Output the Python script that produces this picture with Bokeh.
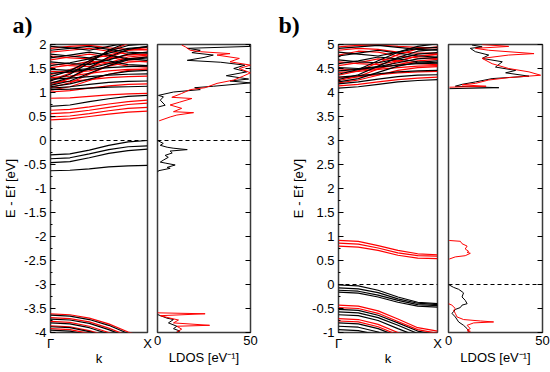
from bokeh.plotting import figure
from bokeh.layouts import row
from bokeh.models import Span, FixedTicker, Range1d
from bokeh.embed import file_html
from bokeh.resources import INLINE

FONT = "Liberation Sans"
BLACK = "#000000"
RED = "#ff0000"

# ---------------- data ----------------
K = [0.0, 0.2, 0.4, 0.6, 0.8, 1.0]
K_TICKS = [0, 1]
K_LABELS = ["Γ", "X"]
LDOS_TICKS = [0, 50]
LDOS_LABELS = ["0", "50"]

A_YTICKS = [-4, -3.5, -3, -2.5, -2, -1.5, -1, -0.5, 0, 0.5, 1, 1.5, 2]
A_YLABELS = ["-4", "-3.5", "-3", "-2.5", "-2", "-1.5", "-1", "-0.5", "0", "0.5", "1", "1.5", "2"]
B_YTICKS = [-1, -0.5, 0, 0.5, 1, 1.5, 2, 2.5, 3, 3.5, 4, 4.5, 5]
B_YLABELS = ["-1", "-0.5", "0", "0.5", "1", "1.5", "2", "2.5", "3", "3.5", "4", "4.5", "5"]

# panel a) bands
A_VB_BLACK = [
    [-0.30, -0.28, -0.20, -0.10, -0.03, 0.00],
    [-0.38, -0.36, -0.28, -0.19, -0.13, -0.11],
    [-0.46, -0.44, -0.36, -0.27, -0.21, -0.18],
    [-0.63, -0.62, -0.59, -0.55, -0.53, -0.52],
]
A_CB_LOW_BLACK = [
    [0.71, 0.74, 0.81, 0.87, 0.92, 0.94],
]
A_CB_LOW_RED = [
    [0.63, 0.65, 0.70, 0.76, 0.81, 0.84],
    [0.56, 0.58, 0.63, 0.69, 0.75, 0.78],
    [0.49, 0.51, 0.56, 0.62, 0.67, 0.69],
    [0.43, 0.45, 0.50, 0.55, 0.59, 0.61],
]
A_CB_HIGH_BLACK = [
    [1.06, 1.07, 1.09, 1.11, 1.12, 1.13],
    [1.09, 1.12, 1.17, 1.21, 1.23, 1.24],
    [1.12, 1.18, 1.28, 1.38, 1.44, 1.46],
    [1.15, 1.24, 1.40, 1.56, 1.68, 1.72],
    [1.19, 1.31, 1.52, 1.74, 1.90, 1.96],
    [1.24, 1.38, 1.62, 1.88, 2.05, 2.10],
    [1.28, 1.30, 1.33, 1.36, 1.38, 1.39],
    [1.33, 1.45, 1.66, 1.86, 1.98, 2.02],
    [1.40, 1.43, 1.48, 1.52, 1.54, 1.55],
    [1.48, 1.46, 1.50, 1.60, 1.70, 1.74],
    [1.56, 1.62, 1.70, 1.66, 1.58, 1.56],
    [1.64, 1.60, 1.58, 1.68, 1.80, 1.84],
    [1.72, 1.78, 1.84, 1.78, 1.70, 1.67],
    [1.80, 1.76, 1.72, 1.82, 1.92, 1.95],
    [1.88, 1.92, 1.96, 1.90, 1.84, 1.82],
    [1.96, 1.93, 1.88, 1.96, 2.04, 2.06],
]
A_CB_HIGH_RED = [
    [0.88, 0.89, 0.92, 0.95, 0.97, 0.98],
    [1.01, 1.04, 1.09, 1.14, 1.17, 1.18],
    [1.05, 1.12, 1.25, 1.38, 1.46, 1.49],
    [1.10, 1.20, 1.38, 1.56, 1.70, 1.75],
    [1.16, 1.29, 1.50, 1.72, 1.88, 1.94],
    [1.21, 1.23, 1.27, 1.31, 1.33, 1.34],
    [1.26, 1.40, 1.64, 1.86, 2.02, 2.08],
    [1.31, 1.34, 1.40, 1.45, 1.48, 1.49],
    [1.37, 1.48, 1.60, 1.70, 1.78, 1.80],
    [1.44, 1.42, 1.45, 1.55, 1.63, 1.66],
    [1.52, 1.57, 1.65, 1.62, 1.55, 1.53],
    [1.60, 1.56, 1.54, 1.62, 1.74, 1.78],
    [1.68, 1.74, 1.80, 1.74, 1.66, 1.64],
    [1.76, 1.72, 1.70, 1.78, 1.88, 1.90],
    [1.84, 1.88, 1.92, 1.86, 1.80, 1.79],
    [1.92, 1.96, 1.98, 1.93, 1.90, 1.89],
]
A_DEEP_BLACK = [
    [-3.64, -3.66, -3.73, -3.85, -4.02, -4.15],
    [-3.72, -3.74, -3.81, -3.94, -4.10, -4.20],
    [-3.80, -3.82, -3.90, -4.03, -4.20, -4.30],
    [-3.88, -3.90, -3.98, -4.10, -4.25, -4.35],
    [-3.95, -3.97, -4.05, -4.18, -4.30, -4.40],
]
A_DEEP_RED = [
    [-3.61, -3.63, -3.70, -3.82, -3.99, -4.12],
    [-3.69, -3.71, -3.78, -3.91, -4.07, -4.18],
    [-3.77, -3.79, -3.87, -4.00, -4.15, -4.25],
    [-3.86, -3.88, -3.96, -4.08, -4.22, -4.32],
    [-3.92, -3.94, -4.02, -4.15, -4.28, -4.38],
]

# panel a) LDOS
A_LDOS_VB_BLACK_E = [0.0, -0.06, -0.10, -0.14, -0.16, -0.19, -0.22, -0.26, -0.31, -0.35, -0.41, -0.45, -0.47, -0.51, -0.56, -0.58, -0.63, -0.66]
A_LDOS_VB_BLACK_D = [0, 3.1, 1.5, 5.2, 8.4, 16, 6.8, 7.9, 4.1, 5.8, 3.1, 1.5, 4.1, 9.5, 5.2, 6.8, 0.5, 0]
A_LDOS_CB_BLACK_E = [0.70, 0.735, 0.84, 0.91, 0.94, 1.01, 1.06, 1.10, 1.13, 1.20, 1.24, 1.28, 1.35, 1.43, 1.50, 1.57, 1.63, 1.67, 1.73, 1.78, 1.83, 1.88, 1.92, 1.96, 2.0]
A_LDOS_CB_BLACK_D = [0.5, 4.1, 1.5, 3.2, 0.5, 8.6, 23, 20, 30, 50, 39, 49, 37, 48, 41, 47, 34, 16, 25, 30, 18.5, 23, 16, 50, 49]
A_LDOS_CB_RED_E = [0.41, 0.49, 0.53, 0.58, 0.60, 0.67, 0.74, 0.80, 0.875, 0.90, 0.98, 1.06, 1.10, 1.19, 1.26, 1.34, 1.41, 1.50, 1.57, 1.64, 1.71, 1.78, 1.81, 1.85, 1.88, 1.95, 1.99]
A_LDOS_CB_RED_D = [0.9, 6.8, 10.4, 19.4, 8.6, 13, 6.8, 12, 18.5, 7.7, 13, 17.6, 25.6, 32, 41, 46, 50, 44, 50, 39, 44, 32, 39, 23, 17.6, 15, 13]
A_LDOS_DEEP_BLACK_E = [-3.625, -3.70, -3.73, -3.80, -3.87, -3.92, -3.97, -4.0]
A_LDOS_DEEP_BLACK_D = [0, 5, 8.6, 5.9, 10.4, 8.6, 12, 10]
A_LDOS_DEEP_RED_E = [-3.59, -3.61, -3.65, -3.70, -3.74, -3.80, -3.85, -3.87, -3.93, -3.99]
A_LDOS_DEEP_RED_D = [0, 25.6, 1.5, 6.8, 11.3, 8.6, 28, 10.4, 13, 10.4]

# panel b) bands
B_CB_LOW_RED = [
    [0.92, 0.90, 0.81, 0.71, 0.64, 0.62],
    [0.86, 0.84, 0.76, 0.66, 0.60, 0.59],
    [0.80, 0.78, 0.71, 0.61, 0.55, 0.54],
]
B_VB_BLACK = [
    [-0.01, -0.03, -0.12, -0.26, -0.37, -0.40],
    [-0.07, -0.09, -0.17, -0.30, -0.39, -0.42],
    [-0.12, -0.14, -0.22, -0.33, -0.42, -0.44],
    [-0.16, -0.18, -0.26, -0.37, -0.45, -0.47],
    [-0.52, -0.54, -0.64, -0.80, -0.97, -1.05],
    [-0.57, -0.59, -0.69, -0.85, -1.02, -1.10],
    [-0.63, -0.65, -0.75, -0.92, -1.08, -1.15],
    [-0.80, -0.82, -0.92, -1.08, -1.20, -1.30],
    [-0.87, -0.89, -0.99, -1.15, -1.30, -1.35],
    [-0.94, -0.96, -1.05, -1.20, -1.35, -1.40],
]
B_VB_RED = [
    [-0.43, -0.45, -0.55, -0.72, -0.90, -0.97],
    [-0.48, -0.50, -0.60, -0.77, -0.94, -1.02],
    [-0.71, -0.73, -0.83, -1.00, -1.15, -1.20],
    [-0.76, -0.78, -0.88, -1.05, -1.20, -1.25],
]
B_CB_HIGH_BLACK = [
    [4.09, 4.12, 4.17, 4.22, 4.25, 4.27],
    [4.18, 4.22, 4.28, 4.33, 4.36, 4.37],
    [4.22, 4.29, 4.42, 4.55, 4.63, 4.66],
    [4.27, 4.37, 4.55, 4.73, 4.86, 4.90],
    [4.32, 4.35, 4.39, 4.43, 4.45, 4.46],
    [4.38, 4.48, 4.66, 4.84, 4.96, 5.02],
    [4.45, 4.48, 4.53, 4.57, 4.60, 4.61],
    [4.52, 4.50, 4.54, 4.62, 4.70, 4.73],
    [4.60, 4.66, 4.74, 4.70, 4.64, 4.62],
    [4.68, 4.64, 4.62, 4.70, 4.80, 4.83],
    [4.76, 4.82, 4.88, 4.82, 4.76, 4.74],
    [4.84, 4.80, 4.76, 4.84, 4.92, 4.94],
    [4.92, 4.95, 4.98, 4.94, 4.90, 4.88],
]
B_CB_HIGH_RED = [
    [4.14, 4.17, 4.22, 4.27, 4.30, 4.32],
    [4.20, 4.26, 4.36, 4.46, 4.52, 4.54],
    [4.25, 4.33, 4.49, 4.65, 4.76, 4.80],
    [4.30, 4.33, 4.37, 4.41, 4.43, 4.44],
    [4.36, 4.45, 4.62, 4.79, 4.91, 4.95],
    [4.42, 4.44, 4.48, 4.52, 4.55, 4.56],
    [4.49, 4.47, 4.50, 4.58, 4.66, 4.69],
    [4.56, 4.62, 4.70, 4.66, 4.60, 4.58],
    [4.64, 4.60, 4.58, 4.66, 4.76, 4.79],
    [4.78, 4.86, 4.84, 4.76, 4.72, 4.71],
    [4.88, 4.92, 4.90, 4.84, 4.82, 4.82],
    [4.95, 4.98, 4.99, 4.96, 4.94, 4.93],
]

# panel b) LDOS
B_LDOS_CB_HIGH_BLACK_E = [4.08, 4.10, 4.13, 4.17, 4.22, 4.29, 4.34, 4.41, 4.46, 4.53, 4.64, 4.71, 4.78, 4.85, 4.92, 4.95, 4.99]
B_LDOS_CB_HIGH_BLACK_D = [0.5, 26.8, 3.6, 7.2, 14.3, 23.2, 42.8, 30.4, 35.7, 25, 28.6, 17.9, 21.4, 14.3, 11.6, 17.9, 12.5]
B_LDOS_CB_HIGH_RED_E = [4.11, 4.13, 4.16, 4.19, 4.26, 4.31, 4.36, 4.43, 4.50, 4.60, 4.71, 4.78, 4.81, 4.88, 4.92, 4.96, 5.0]
B_LDOS_CB_HIGH_RED_D = [0.5, 20, 7.2, 14.3, 21.4, 32, 49, 42.8, 32, 23.2, 17.9, 32, 45.5, 21.4, 14.3, 32, 17.9]
B_LDOS_CB_LOW_RED_E = [0.917, 0.90, 0.85, 0.80, 0.74, 0.69, 0.67, 0.65, 0.60, 0.575, 0.53]
B_LDOS_CB_LOW_RED_D = [0.4, 6.3, 7.2, 9.9, 8.9, 10.7, 9.9, 11.6, 8.9, 3.6, 0.4]
B_LDOS_VB_BLACK_E = [0, -0.06, -0.10, -0.15, -0.175, -0.26, -0.33, -0.40, -0.43, -0.48, -0.52, -0.57, -0.60, -0.675, -0.78, -0.85, -0.92, -0.97, -1.0]
B_LDOS_VB_BLACK_D = [0, 2.7, 5.4, 7.2, 8.0, 7.2, 8.9, 9.9, 7.2, 6.3, 3.6, 2.7, 1.8, 3.6, 5.4, 8.0, 9.9, 10.7, 10]
B_LDOS_VB_RED_E = [-0.40, -0.43, -0.50, -0.535, -0.60, -0.675, -0.73, -0.76, -0.78, -0.80, -0.85, -0.92, -0.95, -0.975, -1.0]
B_LDOS_VB_RED_D = [0, 1.8, 3.6, 2.7, 3.6, 4.5, 8.0, 17, 24, 13.4, 9.9, 11.6, 9.9, 11.6, 10]

# ---------------- layout ----------------
H = 372
TOP = 44
BOTTOM = 40


def style_common(p):
    p.xgrid.visible = False
    p.ygrid.visible = False
    p.outline_line_color = "#3a3a3a"
    p.outline_line_width = 1.5
    p.background_fill_color = "white"
    p.border_fill_color = "white"
    for ax in p.axis:
        ax.axis_line_color = None
        ax.major_label_text_font = FONT
        ax.major_label_text_font_size = "13px"
        ax.major_label_text_color = "black"
        ax.axis_label_text_font = FONT
        ax.axis_label_text_font_size = "13px"
        ax.axis_label_text_font_style = "normal"
        ax.axis_label_text_color = "black"
        ax.minor_tick_line_color = None


def add_zero(p):
    p.add_layout(Span(location=0, dimension="width", line_color="black",
                      line_dash="4 3", line_width=1))


def band_fig(width, left, ylo, yhi, yticks, ylabels, title, offset):
    p = figure(width=width, height=H, x_range=Range1d(0, 1), y_range=Range1d(ylo, yhi),
               output_backend="svg", toolbar_location=None,
               min_border_left=left, min_border_right=5,
               min_border_top=TOP, min_border_bottom=BOTTOM)
    p.title.text = title
    p.title.align = "left"
    p.title.offset = offset
    p.title.standoff = 14
    p.title.text_font = "Liberation Serif"
    p.title.text_font_style = "bold"
    p.title.text_font_size = "24px"
    p.title.text_color = "black"
    style_common(p)
    p.xaxis.ticker = FixedTicker(ticks=K_TICKS)
    p.xaxis.major_label_overrides = dict(zip(K_TICKS, K_LABELS))
    p.xaxis.major_tick_in = 0
    p.xaxis.major_tick_out = 0
    p.xaxis.major_label_standoff = 3
    p.xaxis.axis_label = "k"
    p.xaxis.axis_label_standoff = -3
    minor = [ylo + 0.25 * i for i in range(int(round((yhi - ylo) / 0.25)) + 1)]
    p.yaxis.ticker = FixedTicker(ticks=yticks, minor_ticks=minor)
    p.yaxis.major_label_overrides = dict(zip(yticks, ylabels))
    p.yaxis.major_tick_in = 5
    p.yaxis.major_tick_out = 0
    p.yaxis.minor_tick_line_color = "black"
    p.yaxis.minor_tick_in = 2
    p.yaxis.minor_tick_out = 0
    p.yaxis.major_label_standoff = 4
    p.yaxis.axis_label = "E - Ef [eV]"
    p.yaxis.axis_label_standoff = 3
    add_zero(p)
    return p


def ldos_fig(width, left, right, ylo, yhi, yticks):
    p = figure(width=width, height=H, x_range=Range1d(0, 50), y_range=Range1d(ylo, yhi),
               y_axis_location="right", output_backend="svg", toolbar_location=None,
               min_border_left=left, min_border_right=right,
               min_border_top=TOP, min_border_bottom=BOTTOM)
    style_common(p)
    p.xaxis.ticker = FixedTicker(ticks=LDOS_TICKS)
    p.xaxis.major_label_overrides = dict(zip(LDOS_TICKS, LDOS_LABELS))
    p.xaxis.major_tick_in = 0
    p.xaxis.major_tick_out = 0
    p.xaxis.major_label_standoff = 3
    p.xaxis.axis_label = "LDOS [eV⁻¹]"
    p.xaxis.axis_label_standoff = 2
    p.yaxis.ticker = FixedTicker(ticks=yticks)
    p.yaxis.major_label_overrides = {t: "" for t in yticks}
    p.yaxis.major_label_standoff = 0
    p.yaxis.major_tick_in = 5
    p.yaxis.major_tick_out = 0
    add_zero(p)
    return p


def bands(p, groups, color):
    for g in groups:
        p.multi_line(xs=[K] * len(g), ys=g, line_color=color, line_width=1.2)


# panel a
pa = band_fig(152, 48, -4, 2, A_YTICKS, A_YLABELS, "a)", -38)
bands(pa, [A_CB_LOW_RED, A_CB_HIGH_RED, A_DEEP_RED], RED)
bands(pa, [A_VB_BLACK, A_CB_LOW_BLACK, A_CB_HIGH_BLACK, A_DEEP_BLACK], BLACK)

la = ldos_fig(118, 5, 20, -4, 2, A_YTICKS)
la.line(A_LDOS_VB_BLACK_D, A_LDOS_VB_BLACK_E, line_color=BLACK, line_width=1)
la.line(A_LDOS_CB_BLACK_D, A_LDOS_CB_BLACK_E, line_color=BLACK, line_width=1)
la.line(A_LDOS_DEEP_BLACK_D, A_LDOS_DEEP_BLACK_E, line_color=BLACK, line_width=1)
la.line(A_LDOS_CB_RED_D, A_LDOS_CB_RED_E, line_color=RED, line_width=1)
la.line(A_LDOS_DEEP_RED_D, A_LDOS_DEEP_RED_E, line_color=RED, line_width=1)

# panel b
pb = band_fig(172, 68, -1, 5, B_YTICKS, B_YLABELS, "b)", -60)
bands(pb, [B_CB_LOW_RED, B_CB_HIGH_RED], RED)
bands(pb, [B_VB_BLACK, B_CB_HIGH_BLACK], BLACK)
bands(pb, [B_VB_RED], RED)

lb = ldos_fig(108, 6, 8, -1, 5, B_YTICKS)
lb.line(B_LDOS_CB_HIGH_BLACK_D, B_LDOS_CB_HIGH_BLACK_E, line_color=BLACK, line_width=1)
lb.line(B_LDOS_VB_BLACK_D, B_LDOS_VB_BLACK_E, line_color=BLACK, line_width=1)
lb.line(B_LDOS_CB_HIGH_RED_D, B_LDOS_CB_HIGH_RED_E, line_color=RED, line_width=1)
lb.line(B_LDOS_CB_LOW_RED_D, B_LDOS_CB_LOW_RED_E, line_color=RED, line_width=1)
lb.line(B_LDOS_VB_RED_D, B_LDOS_VB_RED_E, line_color=RED, line_width=1)

layout = row(pa, la, pb, lb)
open("out.html", "w").write(file_html(layout, INLINE))
